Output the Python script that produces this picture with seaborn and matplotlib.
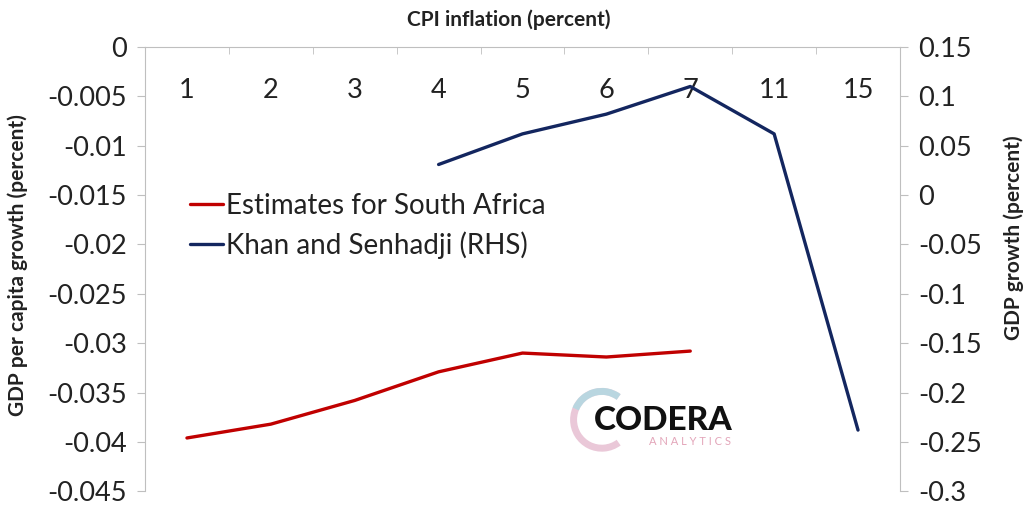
import numpy as np
import pandas as pd
import matplotlib
matplotlib.use("Agg")
import matplotlib.pyplot as plt
from matplotlib.patches import Arc
import seaborn as sns

# ---------------------------------------------------------------------------
# Data
# ---------------------------------------------------------------------------
categories = ["1", "2", "3", "4", "5", "6", "7", "11", "15"]

sa_categories = ["1", "2", "3", "4", "5", "6", "7"]
sa_values = [-0.0396, -0.0382, -0.0358, -0.0329, -0.0310, -0.0314, -0.0308]

ks_categories = ["4", "5", "6", "7", "11", "15"]
ks_values = [0.031, 0.062, 0.082, 0.110, 0.062, -0.238]

left_ticks = [0, -0.005, -0.01, -0.015, -0.02, -0.025, -0.03, -0.035, -0.04, -0.045]
right_ticks = [0.15, 0.1, 0.05, 0, -0.05, -0.1, -0.15, -0.2, -0.25, -0.3]

RED = "#C00000"
NAVY = "#13265F"
GREY = "#BFBFBF"
TXT = "#222222"

pos = {c: i for i, c in enumerate(categories)}
sa_df = pd.DataFrame({"x": [pos[c] for c in sa_categories], "y": sa_values})
ks_df = pd.DataFrame({"x": [pos[c] for c in ks_categories], "y": ks_values})

sns.set_style("white")
plt.rcParams["font.family"] = ["Lato", "DejaVu Sans"]

fig = plt.figure(figsize=(10.27, 5.07), dpi=100)
ax = fig.add_axes([0.1412, 0.031, 0.7351, 0.8763])
ax2 = ax.twinx()

sns.lineplot(data=sa_df, x="x", y="y", ax=ax, color=RED, linewidth=2.4,
             label="Estimates for South Africa", legend=False)
sns.lineplot(data=ks_df, x="x", y="y", ax=ax2, color=NAVY, linewidth=2.4,
             label="Khan and Senhadji (RHS)", legend=False)

# left axis
ax.set_ylim(-0.045, 0)
ax.set_yticks(left_ticks)
ax.set_yticklabels([f"{t:g}" for t in left_ticks])
ax.set_xlim(-0.5, len(categories) - 0.5)
ax.set_ylabel("GDP per capita growth (percent)", fontsize=15, fontweight="bold",
              color=TXT)
ax.yaxis.set_label_coords(-0.155, 0.51)
ax.set_xlabel("")

# right axis
ax2.set_ylim(-0.3, 0.15)
ax2.set_yticks(right_ticks)
ax2.set_yticklabels([f"{t:g}" for t in right_ticks])
ax2.set_ylabel("GDP growth (percent)", fontsize=15, fontweight="bold", color=TXT)
ax2.yaxis.set_label_coords(1.137, 0.57)

# category axis along the top, labels inside the plot
ax.set_xticks(range(len(categories)))
ax.set_xticklabels(categories)
ax.set_xticks(np.arange(-0.5, len(categories)), minor=True)
ax.xaxis.set_ticks_position("top")
ax.tick_params(axis="x", which="major", length=0, pad=-40, labelsize=19.5,
               colors=TXT)
ax.tick_params(axis="x", which="minor", length=5, direction="in", color=GREY,
               top=True, bottom=False)

for a in (ax, ax2):
    for side in ("top", "bottom", "left", "right"):
        a.spines[side].set_visible(False)
    a.tick_params(axis="y", length=6, color=GREY, labelsize=19.5, labelcolor=TXT,
                  pad=7)
    a.grid(False)

ax.spines["top"].set_visible(True)
ax.spines["top"].set_color(GREY)
ax.spines["left"].set_visible(True)
ax.spines["left"].set_color(GREY)
ax2.spines["right"].set_visible(True)
ax2.spines["right"].set_color(GREY)

fig.text(0.495, 0.962, "CPI inflation (percent)", ha="center", va="center",
         fontsize=15, fontweight="bold", color=TXT)

# legend
handles = ax.get_lines()[:1] + ax2.get_lines()[:1]
labels = ["Estimates for South Africa", "Khan and Senhadji (RHS)"]
leg = fig.legend(handles, labels, loc="upper left", bbox_to_anchor=(0.185, 0.62),
                 frameon=False, fontsize=20, handlelength=1.2, handletextpad=0.1,
                 labelspacing=0.45, borderaxespad=0, borderpad=0)
for t in leg.get_texts():
    t.set_color(TXT)

# watermark logo
fig.add_artist(Arc((0.586, 0.172), 0.055, 0.112, theta1=70, theta2=290,
                   transform=fig.transFigure, color="#E3B6CB", linewidth=5,
                   alpha=0.75))
fig.add_artist(Arc((0.586, 0.172), 0.055, 0.112, theta1=70, theta2=140,
                   transform=fig.transFigure, color="#A9DCE3", linewidth=5,
                   alpha=0.75))
fig.text(0.646, 0.170, "CODERA", ha="center", va="center", fontsize=24,
         fontweight="black", color="#111111")
fig.text(0.672, 0.129, "A N A L Y T I C S", ha="center", va="center", fontsize=8,
         color="#E3A5B9")

fig.savefig("out.png", dpi=100)
